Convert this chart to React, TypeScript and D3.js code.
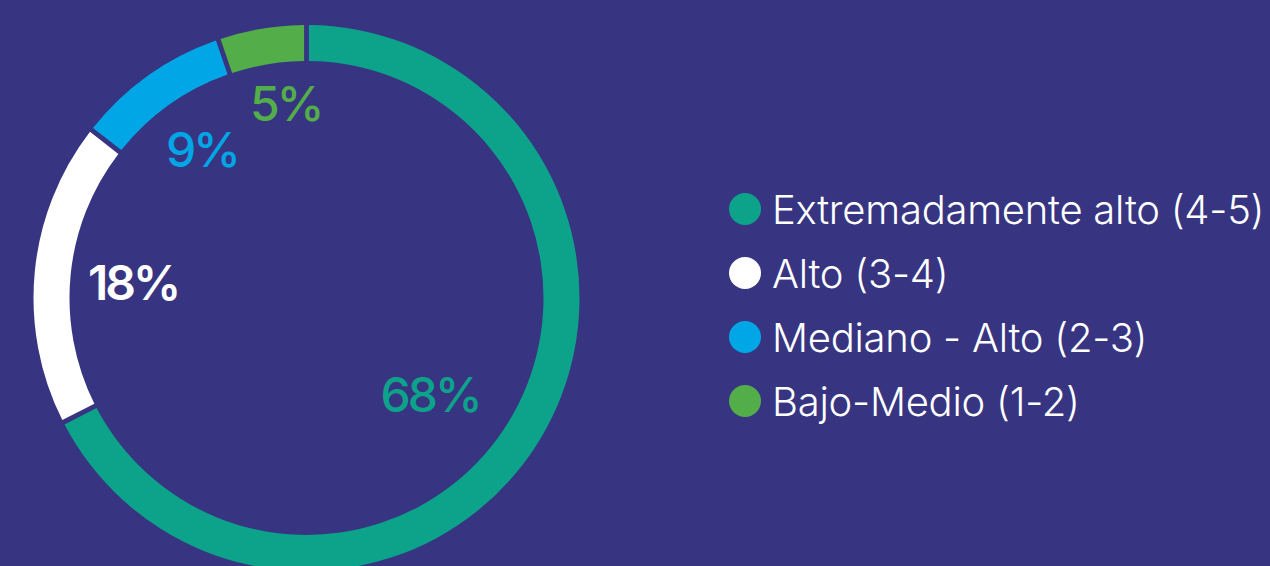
import React from "react";
import * as d3 from "d3";

const categories = [
  "Extremadamente alto (4-5)",
  "Alto (3-4)",
  "Mediano - Alto (2-3)",
  "Bajo-Medio (1-2)",
];
const values = [68, 18, 9, 5];
const colors = ["#0DA38B", "#FFFFFF", "#00A6E6", "#53AE4A"];

const W = 1270;
const H = 566;
const BG = "#373581";

export default function App() {
  const cx = 306.5;
  const cy = 298;
  const rOuter = 273;
  const rInner = 237;

  const pie = d3
    .pie<number>()
    .sort(null)
    .value((d) => d)
    .startAngle(0)
    .endAngle(2 * Math.PI)
    .padAngle(0.019);
  const arcs = pie(values);
  const arc = d3
    .arc<d3.PieArcDatum<number>>()
    .innerRadius(rInner)
    .outerRadius(rOuter)
    .padRadius(255);

  // label placement: radius and angle tweak per slice
  const labelR = [157, 174, 181, 195];
  const labelDA = [6.6, -0.6, 0.1, 3.3];

  const font = "Inter, 'Open Sans', sans-serif";

  return (
    <svg
      width={W}
      height={H}
      style={{ position: "fixed", left: 0, top: 0, display: "block" }}
    >
      <rect x={0} y={0} width={W} height={H} fill={BG} />
      <g transform={`translate(${cx},${cy})`}>
        {arcs.map((a, i) => (
          <path key={i} d={arc(a) || ""} fill={colors[i]} />
        ))}
        {arcs.map((a, i) => {
          const mid = (a.startAngle + a.endAngle) / 2 + (labelDA[i] * Math.PI) / 180;
          const x = Math.sin(mid) * labelR[i];
          const y = -Math.cos(mid) * labelR[i];
          return (
            <text
              key={"l" + i}
              x={x}
              y={y + 17}
              textAnchor="middle"
              fill={colors[i]}
              fontFamily={font}
              fontWeight={i === 1 ? 600 : 500}
              fontSize={48}
              letterSpacing={-3}
            >
              {`${values[i]}%`}
            </text>
          );
        })}
      </g>
      <g transform="translate(745,0)">
        {categories.map((c, i) => {
          const y = 209 + i * 64;
          return (
            <g key={c} transform={`translate(0,${y})`}>
              <circle cx={0} cy={0} r={16} fill={colors[i]} />
              <text
                x={27}
                y={15}
                fill="#FFFFFF"
                fontFamily={font}
                fontWeight={300}
                fontSize={40}
                letterSpacing={-0.25}
              >
                {c}
              </text>
            </g>
          );
        })}
      </g>
    </svg>
  );
}
